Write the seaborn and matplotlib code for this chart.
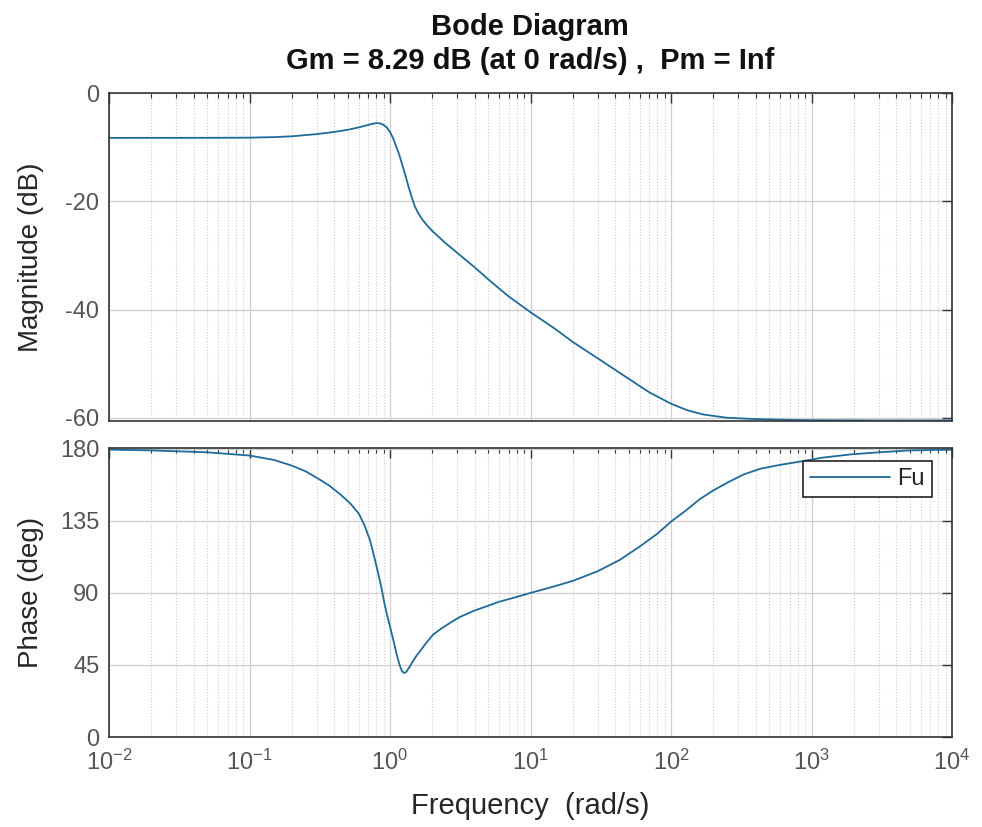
import numpy as np
import pandas as pd
import seaborn as sns
import matplotlib.pyplot as plt
from matplotlib.ticker import LogLocator, NullFormatter

# Bode diagram values
mag_freq = [0.01, 0.05, 0.1, 0.15, 0.2, 0.3, 0.4, 0.5, 0.6, 0.7, 0.76, 0.81, 0.86,
            0.9, 0.95, 1.0, 1.05, 1.1, 1.16, 1.22, 1.28, 1.35, 1.43, 1.5, 1.58, 1.68,
            1.8, 2.0, 2.5, 3.0, 4.0, 5.2, 7.0, 10, 15, 20, 30, 50, 70, 100, 130, 170,
            250, 400, 700, 1000, 3000, 10000]
mag_db = [-8.29, -8.28, -8.25, -8.15, -8.0, -7.6, -7.2, -6.8, -6.35, -5.9, -5.65,
          -5.55, -5.65, -5.9, -6.4, -7.2, -8.3, -9.7, -11.3, -13.2, -15.0, -17.2,
          -19.3, -20.9, -22.1, -23.2, -24.2, -25.5, -27.8, -29.5, -32.2, -34.8, -37.6,
          -40.5, -43.6, -46.0, -49.0, -52.8, -55.3, -57.4, -58.6, -59.4, -60.0,
          -60.25, -60.4, -60.45, -60.5, -60.5]

ph_freq = [0.01, 0.02, 0.05, 0.1, 0.15, 0.2, 0.25, 0.3, 0.37, 0.45, 0.52, 0.6, 0.66,
           0.72, 0.77, 0.82, 0.87, 0.91, 0.96, 1.0, 1.04, 1.07, 1.12, 1.17, 1.22,
           1.26, 1.3, 1.36, 1.45, 1.55, 1.65, 1.8, 2.03, 2.3, 2.7, 3.15, 4.0, 5.0,
           6.0, 8.0, 10, 14, 20, 30, 43, 60, 80, 100, 130, 160, 200, 260, 330, 430,
           600, 830, 1200, 1900, 3000, 5000, 10000]
ph_deg = [179.5, 179, 177.8, 175.8, 173, 169.5, 166, 162, 157, 151, 146, 139.5, 132,
          123, 113, 103, 93, 84, 75, 69, 63, 58.5, 51, 45, 41, 40, 40.5, 43, 47, 51,
          54, 58.5, 64, 67.5, 71.5, 75, 79, 82, 84.5, 87.5, 90, 93.5, 97.5, 103.5,
          110.5, 119, 127, 134.5, 142, 148.5, 154, 159.5, 164, 167.5, 170, 172,
          174.5, 176.5, 177.8, 179, 179.5]

mag_ticks = [-60, -40, -20, 0]
ph_ticks = [0, 45, 90, 135, 180]

mag = pd.DataFrame({"w": mag_freq, "db": mag_db})
ph = pd.DataFrame({"w": ph_freq, "deg": ph_deg})

sns.set_theme(style="white")
plt.rcParams["font.family"] = ["Liberation Sans", "DejaVu Sans"]
plt.rcParams["mathtext.fontset"] = "custom"
plt.rcParams["mathtext.rm"] = "Liberation Sans"
plt.rcParams["axes.unicode_minus"] = False

line_color = "#1f6a98"
tick_color = "#555555"

fig = plt.figure(figsize=(9.82, 8.27), dpi=100)
W, H = 982, 827
ax1 = fig.add_axes([109 / W, 1 - 421 / H, 843 / W, 328 / H])
ax2 = fig.add_axes([109 / W, 1 - 737 / H, 843 / W, 289 / H])

sns.lineplot(data=mag, x="w", y="db", ax=ax1, color=line_color, lw=1.3)
sns.lineplot(data=ph, x="w", y="deg", ax=ax2, color=line_color, lw=1.3, label="Fu")

for ax in (ax1, ax2):
    ax.set_xscale("log")
    ax.set_xlim(1e-2, 1e4)
    ax.xaxis.set_major_locator(LogLocator(base=10, numticks=10))
    ax.xaxis.set_minor_locator(LogLocator(base=10, subs=np.arange(2, 10), numticks=100))
    ax.xaxis.set_minor_formatter(NullFormatter())
    ax.grid(True, which="major", color="#cfcfcf", lw=0.9, ls="-")
    ax.grid(True, which="minor", axis="x", color="#cccccc", lw=0.8, ls=":")
    ax.tick_params(which="both", direction="in", top=True, right=True,
                   colors="#333333", labelcolor=tick_color, labelsize=17, pad=7)
    ax.tick_params(which="major", length=7, width=1)
    ax.tick_params(which="minor", length=3.5, width=0.8)
    for s in ax.spines.values():
        s.set_color("#333333")
        s.set_linewidth(1.2)
    ax.set_xlabel("")
    ax.set_ylabel("")

ax1.set_ylim(-60.6, 0)
ax1.set_yticks(mag_ticks)
ax1.tick_params(axis="x", labelbottom=False)
ax2.set_ylim(0, 180.5)
ax2.set_yticks(ph_ticks)
ax2.tick_params(axis="x", pad=9)

ax1.set_ylabel("Magnitude (dB)", fontsize=20, color="#262626")
ax2.set_ylabel("Phase (deg)", fontsize=20, color="#262626")
ax1.yaxis.set_label_coords(-0.077, 0.5)
ax2.yaxis.set_label_coords(-0.077, 0.5)
ax2.set_xlabel("Frequency  (rad/s)", fontsize=21, color="#262626")
ax2.xaxis.set_label_coords(0.5, -0.19)

fig.text(530 / W, 1 - 27 / H, "Bode Diagram", ha="center", va="center",
         fontsize=21, fontweight="bold", color="#111111")
fig.text(530 / W, 1 - 61 / H, "Gm = 8.29 dB (at 0 rad/s) ,  Pm = Inf", ha="center",
         va="center", fontsize=21, fontweight="bold", color="#111111")

leg = ax2.legend(loc="upper right", bbox_to_anchor=(0.976, 0.955), fontsize=17,
                 frameon=True, fancybox=False, framealpha=1, handlelength=3.4,
                 borderpad=0.3, handletextpad=0.3, borderaxespad=0)
leg.get_frame().set_edgecolor("#222222")
leg.get_frame().set_linewidth(1.2)
for t in leg.get_texts():
    t.set_color("#262626")

fig.savefig("out.png", dpi=100)
